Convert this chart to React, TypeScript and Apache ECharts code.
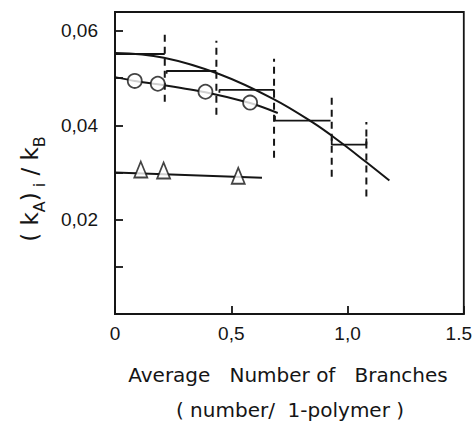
import React, { useEffect, useRef } from "react";
import * as echarts from "echarts";

// x tick labels
const xLabelValues = [0, 0.5, 1.0, 1.5];
const xLabelTexts = ["0", "0,5", "1,0", "{r|1.5}"];
// y tick labels
const yLabelValues = [0.02, 0.04, 0.06];
const yLabelTexts = ["0,02", "0,04", "0,06"];

// upper smooth curve (no markers)
const upperX = [0, 0.21, 0.45, 0.68, 0.85, 0.97, 1.08, 1.18];
const upperY = [0.0553, 0.0543, 0.0508, 0.0456, 0.0406, 0.0364, 0.0322, 0.0283];

// circles
const circleX = [0.085, 0.184, 0.389, 0.581];
const circleY = [0.0494, 0.0488, 0.0471, 0.0448];
// circle fit line
const circleLineX = [0, 0.085, 0.184, 0.389, 0.581, 0.70];
const circleLineY = [0.0502, 0.0494, 0.0487, 0.047, 0.0447, 0.0426];

// triangles
const triX = [0.111, 0.209, 0.53];
const triY = [0.0306, 0.0304, 0.0293];
const triLineX = [0, 0.632];
const triLineY = [0.03, 0.0289];

// dashed vertical ranges
const dashX = [0.214, 0.436, 0.684, 0.932, 1.081];
const dashLow = [0.045, 0.0422, 0.0331, 0.0291, 0.0249];
const dashHigh = [0.0596, 0.0579, 0.0541, 0.0469, 0.0407];

// horizontal step segments
const stepStart = [0, 0.222, 0.449, 0.688, 0.932];
const stepEnd = [0.214, 0.436, 0.684, 0.927, 1.081];
const stepY = [0.0551, 0.0515, 0.0475, 0.041, 0.0359];
const stepTickL = [0, -0.0006, -0.0006, 0.001, 0.0013];
const stepTickR = [0, 0, -0.0006, 0, 0.0013];

const INK = "#151515";
const FONT = "DejaVu Sans";
const TICK_FONT = "Liberation Sans";

function pick(vals: number[], texts: string[], v: number) {
  for (let i = 0; i < vals.length; i++) {
    if (Math.abs(vals[i] - v) < 1e-6) return texts[i];
  }
  return "";
}

export default function App() {
  const ref = useRef<HTMLDivElement>(null);
  useEffect(() => {
    if (!ref.current) return;
    const chart = echarts.init(ref.current, undefined, { renderer: "svg" });

    const series: any[] = [];
    series.push({
      type: "line",
      data: upperX.map((x, i) => [x, upperY[i]]),
      smooth: 0.4,
      showSymbol: false,
      lineStyle: { color: INK, width: 2 },
    });
    series.push({
      type: "line",
      data: circleLineX.map((x, i) => [x, circleLineY[i]]),
      smooth: 0.3,
      showSymbol: false,
      lineStyle: { color: INK, width: 2 },
    });
    series.push({
      type: "line",
      data: triLineX.map((x, i) => [x, triLineY[i]]),
      showSymbol: false,
      lineStyle: { color: INK, width: 2 },
    });
    dashX.forEach((x, i) => {
      series.push({
        type: "line",
        data: [
          [x, dashLow[i]],
          [x, dashHigh[i]],
        ],
        showSymbol: false,
        lineStyle: { color: INK, width: 2, type: [7, 5] },
      });
    });
    stepY.forEach((y, i) => {
      series.push({
        type: "line",
        data: [
          [stepStart[i], y + stepTickL[i]],
          [stepStart[i], y],
          [stepEnd[i], y],
          [stepEnd[i], y + stepTickR[i]],
        ],
        showSymbol: false,
        lineStyle: { color: INK, width: 1.8 },
      });
    });
    series.push({
      type: "scatter",
      data: circleX.map((x, i) => [x, circleY[i]]),
      symbol: "circle",
      symbolSize: 14,
      itemStyle: { color: "#ffffff", borderColor: INK, borderWidth: 1.8 },
      z: 5,
    });
    series.push({
      type: "scatter",
      data: triX.map((x, i) => [x, triY[i]]),
      symbol: "triangle",
      symbolSize: [13, 16],
      itemStyle: { color: "#ffffff", borderColor: INK, borderWidth: 1.8 },
      z: 5,
    });

    chart.setOption({
      animation: false,
      backgroundColor: "#ffffff",
      grid: {
        left: 115,
        right: 10,
        top: 12,
        bottom: 108,
        show: true,
        borderColor: INK,
        borderWidth: 1.8,
      },
      xAxis: {
        type: "value",
        min: 0,
        max: 1.5,
        interval: 0.5,
        axisLine: { show: true, lineStyle: { color: INK, width: 1.8 } },
        axisTick: { show: true, inside: true, length: 8, lineStyle: { color: INK, width: 1.8 } },
        splitLine: { show: false },
        axisLabel: {
          color: INK,
          fontSize: 19,
          fontFamily: TICK_FONT,
          margin: 10,
          formatter: (v: number) => pick(xLabelValues, xLabelTexts, v),
          rich: {
            r: { fontSize: 19, fontFamily: TICK_FONT, color: INK, padding: [0, 10, 0, 0] },
          },
        },
      },
      yAxis: {
        type: "value",
        min: 0,
        max: 0.064,
        interval: 0.01,
        axisLine: { show: true, lineStyle: { color: INK, width: 1.8 } },
        axisTick: { show: true, inside: true, length: 8, lineStyle: { color: INK, width: 1.8 } },
        splitLine: { show: false },
        axisLabel: {
          color: INK,
          fontSize: 19,
          fontFamily: TICK_FONT,
          margin: 17,
          formatter: (v: number) => pick(yLabelValues, yLabelTexts, v),
        },
      },
      graphic: [
        {
          type: "text",
          x: 30,
          y: 189,
          rotation: Math.PI / 2,
          style: {
            text: "{n|( k}{s|A}{n|)}{s| i}{n| / k}{s|B}",
            align: "center",
            verticalAlign: "middle",
            fill: INK,
            rich: {
              n: { fontSize: 23, fontFamily: FONT, fill: INK, lineHeight: 34, verticalAlign: "middle" },
              s: { fontSize: 16, fontFamily: FONT, fill: INK, lineHeight: 34, verticalAlign: "bottom" },
            },
          },
        },
        {
          type: "text",
          x: 288,
          y: 375,
          style: {
            text: "Average   Number of   Branches",
            align: "center",
            verticalAlign: "middle",
            fontSize: 20,
            fontFamily: FONT,
            fill: INK,
          },
        },
        {
          type: "text",
          x: 290,
          y: 410,
          style: {
            text: "( number/  1-polymer )",
            align: "center",
            verticalAlign: "middle",
            fontSize: 20,
            fontFamily: FONT,
            fill: INK,
          },
        },
      ],
      series,
    });
    return () => chart.dispose();
  }, []);
  return (
    <div
      ref={ref}
      style={{ position: "absolute", left: 0, top: 0, width: 475, height: 422 }}
    />
  );
}
